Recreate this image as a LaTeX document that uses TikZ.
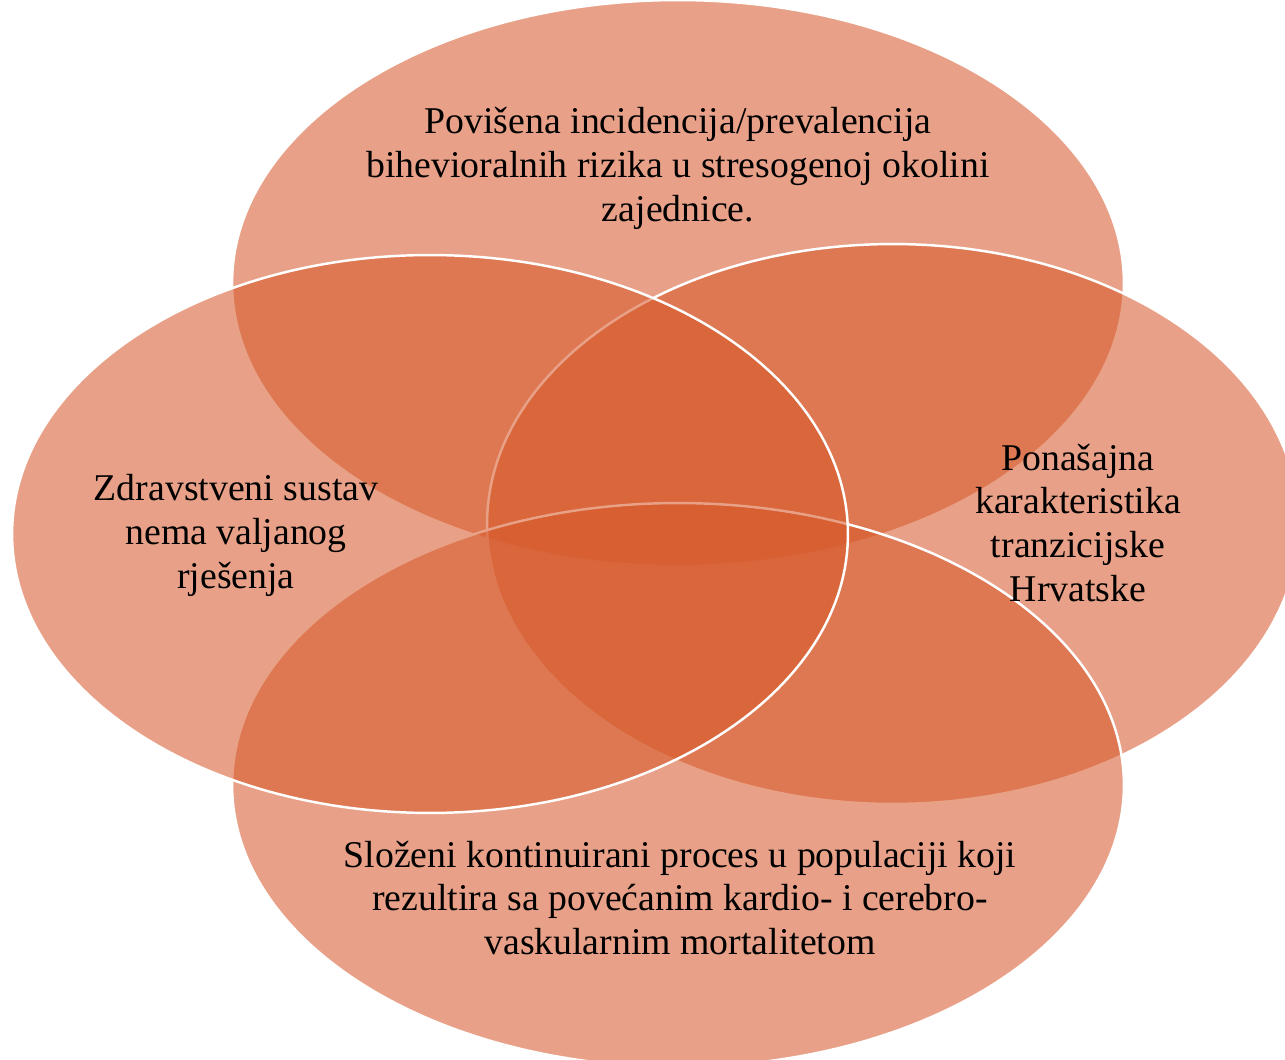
\documentclass[tikz,border=0pt]{standalone}
\usepackage{fontspec}
\setmainfont{Liberation Serif}
\usetikzlibrary{shapes.geometric}
\definecolor{petal}{RGB}{214,88,42}

\begin{document}
\begin{tikzpicture}[
  x=0.02cm, y=-0.02cm,                      % one unit = one pixel of the layout
  blob/.style  = {ellipse,
                  fill=petal,
                  fill opacity=0.56,
                  draw=white,
                  line width=1.4pt,
                  inner sep=0pt,
                  outer sep=0pt},
  label/.style = {align=center,
                  text=black,
                  font=\fontsize{21.5}{25}\selectfont}
]
\useasboundingbox (0,0) rectangle (1285,1060);
\clip (0,0) rectangle (1285,1060);

% drawing order: top, right, bottom, left
\node[blob, minimum width=17.84cm, minimum height=11.32cm] (top)    at (678,283) {};
\node[blob, minimum width=16.24cm, minimum height=11.20cm] (right)  at (893,524) {};
\node[blob, minimum width=17.84cm, minimum height=11.28cm] (bottom) at (678,785) {};
\node[blob, minimum width=16.72cm, minimum height=11.16cm] (left)   at (430,534) {};

\node[label] (toptext)    at (678,168)  {Povišena incidencija/prevalencija\\bihevioralnih rizika u stresogenoj okolini\\zajednice.};
\node[label] (lefttext)   at (236,535)  {Zdravstveni sustav\\nema valjanog\\rješenja};
\node[label] (righttext)  at (1078,523) {Ponašajna\\karakteristika\\tranzicijske\\Hrvatske};
\node[label] (bottomtext) at (680,898)  {Složeni kontinuirani proces u populaciji koji\\rezultira sa povećanim kardio- i cerebro-\\vaskularnim mortalitetom};

\end{tikzpicture}
\end{document}
